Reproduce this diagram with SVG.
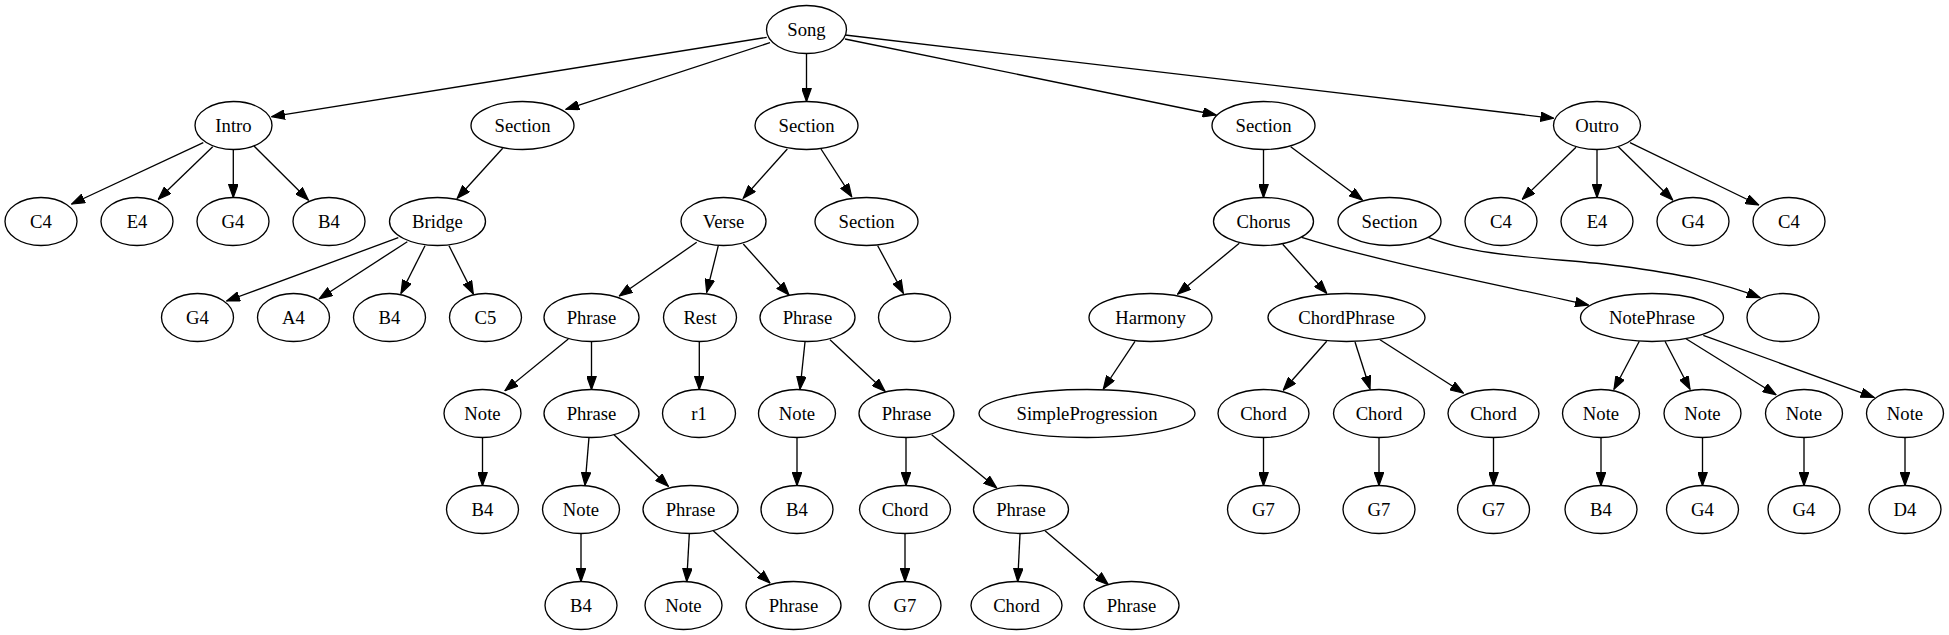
<svg xmlns="http://www.w3.org/2000/svg" width="1949" height="635" viewBox="0 0 1949 635">
<style>
ellipse{fill:#fff;stroke:#000;stroke-width:1.33}
text{font-family:'Liberation Serif',serif;font-size:18.67px;text-anchor:middle;fill:#000}
.e path,.e line{fill:none;stroke:#000;stroke-width:1.33;marker-end:url(#ah)}
</style>
<defs>
<marker id="ah" viewBox="0 0 14 10" refX="13.3" refY="5" markerWidth="14" markerHeight="10" markerUnits="userSpaceOnUse" orient="auto">
<polygon points="0.5,0.4 13.3,5 0.5,9.6" fill="#000" stroke="#000" stroke-width="1.2"/>
</marker>
</defs>
<rect width="1949" height="635" fill="#fff"/>
<g class="e" id="edges">
<line x1="766.7" y1="37.3" x2="271.7" y2="116.7"/>
<line x1="770" y1="42.7" x2="566" y2="109.3"/>
<line x1="806.5" y1="53.5" x2="806.5" y2="101.5"/>
<line x1="845" y1="39" x2="1216" y2="115"/>
<line x1="845" y1="35" x2="1553.7" y2="118.3"/>
<line x1="203.3" y1="142.7" x2="71.7" y2="204"/>
<line x1="212.7" y1="146.7" x2="158.3" y2="199.3"/>
<line x1="233.3" y1="149.5" x2="233.3" y2="197.5"/>
<line x1="254" y1="146" x2="308.3" y2="200"/>
<line x1="502.7" y1="148.3" x2="457.3" y2="198.3"/>
<line x1="398.3" y1="237.7" x2="226.7" y2="301"/>
<line x1="407.3" y1="241.7" x2="319.3" y2="298.7"/>
<line x1="425" y1="245.7" x2="401" y2="293.3"/>
<line x1="449" y1="245.7" x2="473.3" y2="294"/>
<line x1="787.3" y1="149" x2="743.3" y2="198.3"/>
<line x1="821" y1="149" x2="851.7" y2="196.7"/>
<line x1="696.7" y1="242.3" x2="619.3" y2="296"/>
<line x1="718.3" y1="245.7" x2="706.7" y2="292.3"/>
<line x1="743.3" y1="244" x2="789" y2="295"/>
<line x1="877.7" y1="245.7" x2="903.3" y2="293.3"/>
<line x1="1263.5" y1="149.5" x2="1263.5" y2="197.5"/>
<line x1="1290.7" y1="146.7" x2="1362.3" y2="200"/>
<line x1="1239.3" y1="243.3" x2="1177.7" y2="294"/>
<line x1="1282.7" y1="244.3" x2="1326.7" y2="293.3"/>
<path d="M1301.7,237.3 C1380,262 1500,285 1588.3,305"/>
<path d="M1428.3,237.3 C1480,258 1560,258 1620,266 C1680,274 1720,282 1760,297.7"/>
<line x1="1576" y1="147.3" x2="1522.3" y2="199.3"/>
<line x1="1597" y1="149.5" x2="1597" y2="197.5"/>
<line x1="1618.3" y1="146.7" x2="1672.7" y2="200"/>
<line x1="1630" y1="142.7" x2="1758.7" y2="205"/>
<line x1="568.3" y1="339" x2="505" y2="390.7"/>
<line x1="591.5" y1="341.5" x2="591.5" y2="389.5"/>
<line x1="699.3" y1="341.5" x2="699.3" y2="389.5"/>
<line x1="805" y1="342" x2="800" y2="389.3"/>
<line x1="830" y1="339.7" x2="885" y2="391.3"/>
<line x1="1135" y1="341.3" x2="1103.3" y2="389"/>
<line x1="1326.7" y1="341.3" x2="1283.3" y2="390.2"/>
<line x1="1355" y1="342" x2="1370" y2="389"/>
<line x1="1380" y1="339.7" x2="1463.3" y2="393"/>
<line x1="1639.3" y1="341.3" x2="1614" y2="389.3"/>
<line x1="1665" y1="341.3" x2="1690" y2="389.3"/>
<line x1="1686" y1="338.7" x2="1776" y2="394.7"/>
<line x1="1703.3" y1="335.3" x2="1874" y2="397.3"/>
<line x1="482.5" y1="437.5" x2="482.5" y2="485.5"/>
<line x1="589" y1="437.3" x2="585" y2="485.3"/>
<line x1="614" y1="434.7" x2="668.3" y2="486.3"/>
<line x1="797" y1="437.5" x2="797" y2="485.5"/>
<line x1="906" y1="437.5" x2="906" y2="485.5"/>
<line x1="931.7" y1="434.7" x2="996.7" y2="488"/>
<line x1="1263.5" y1="437.5" x2="1263.5" y2="485.5"/>
<line x1="1379" y1="437.5" x2="1379" y2="485.5"/>
<line x1="1493.5" y1="437.5" x2="1493.5" y2="485.5"/>
<line x1="1601" y1="437.5" x2="1601" y2="485.5"/>
<line x1="1702.5" y1="437.5" x2="1702.5" y2="485.5"/>
<line x1="1804" y1="437.5" x2="1804" y2="485.5"/>
<line x1="1905" y1="437.5" x2="1905" y2="485.5"/>
<line x1="581" y1="533.5" x2="581" y2="581.5"/>
<line x1="689.3" y1="534" x2="686.7" y2="581.5"/>
<line x1="713.3" y1="530.7" x2="770" y2="583"/>
<line x1="905" y1="533.5" x2="905" y2="581.5"/>
<line x1="1020" y1="534" x2="1017.7" y2="581.5"/>
<line x1="1045" y1="530.7" x2="1108.3" y2="584.7"/>
</g>
<g id="nodes" font-family="Liberation Serif, serif">
<g id="song"><ellipse cx="806.5" cy="29.5" rx="40" ry="24"/><text x="806.5" y="35.5">Song</text></g>
<g id="intro"><ellipse cx="233.5" cy="125.5" rx="38.5" ry="24"/><text x="233.5" y="131.5">Intro</text></g>
<g id="section1"><ellipse cx="522.5" cy="125.5" rx="51.5" ry="24"/><text x="522.5" y="131.5">Section</text></g>
<g id="section2"><ellipse cx="806.5" cy="125.5" rx="51.5" ry="24"/><text x="806.5" y="131.5">Section</text></g>
<g id="section3"><ellipse cx="1263.5" cy="125.5" rx="51.5" ry="24"/><text x="1263.5" y="131.5">Section</text></g>
<g id="outro"><ellipse cx="1597" cy="125.5" rx="43.5" ry="24"/><text x="1597" y="131.5">Outro</text></g>
<g id="intro_c4"><ellipse cx="41" cy="221.5" rx="36" ry="24"/><text x="41" y="227.5">C4</text></g>
<g id="intro_e4"><ellipse cx="137" cy="221.5" rx="36" ry="24"/><text x="137" y="227.5">E4</text></g>
<g id="intro_g4"><ellipse cx="233" cy="221.5" rx="36" ry="24"/><text x="233" y="227.5">G4</text></g>
<g id="intro_b4"><ellipse cx="329" cy="221.5" rx="36" ry="24"/><text x="329" y="227.5">B4</text></g>
<g id="bridge"><ellipse cx="437.5" cy="221.5" rx="48" ry="24"/><text x="437.5" y="227.5">Bridge</text></g>
<g id="verse"><ellipse cx="723.5" cy="221.5" rx="42.5" ry="24"/><text x="723.5" y="227.5">Verse</text></g>
<g id="section2b"><ellipse cx="866.5" cy="221.5" rx="51.5" ry="24"/><text x="866.5" y="227.5">Section</text></g>
<g id="chorus"><ellipse cx="1263.5" cy="221.5" rx="50" ry="24"/><text x="1263.5" y="227.5">Chorus</text></g>
<g id="section3b"><ellipse cx="1389.5" cy="221.5" rx="51.5" ry="24"/><text x="1389.5" y="227.5">Section</text></g>
<g id="outro_c4"><ellipse cx="1501" cy="221.5" rx="36" ry="24"/><text x="1501" y="227.5">C4</text></g>
<g id="outro_e4"><ellipse cx="1597" cy="221.5" rx="36" ry="24"/><text x="1597" y="227.5">E4</text></g>
<g id="outro_g4"><ellipse cx="1693" cy="221.5" rx="36" ry="24"/><text x="1693" y="227.5">G4</text></g>
<g id="outro_c4b"><ellipse cx="1789" cy="221.5" rx="36" ry="24"/><text x="1789" y="227.5">C4</text></g>
<g id="bridge_g4"><ellipse cx="197.5" cy="317.5" rx="36" ry="24"/><text x="197.5" y="323.5">G4</text></g>
<g id="bridge_a4"><ellipse cx="293.5" cy="317.5" rx="36" ry="24"/><text x="293.5" y="323.5">A4</text></g>
<g id="bridge_b4"><ellipse cx="389.5" cy="317.5" rx="36" ry="24"/><text x="389.5" y="323.5">B4</text></g>
<g id="bridge_c5"><ellipse cx="485.5" cy="317.5" rx="36" ry="24"/><text x="485.5" y="323.5">C5</text></g>
<g id="phrase_a"><ellipse cx="591.5" cy="317.5" rx="47.5" ry="24"/><text x="591.5" y="323.5">Phrase</text></g>
<g id="rest"><ellipse cx="700" cy="317.5" rx="36.5" ry="24"/><text x="700" y="323.5">Rest</text></g>
<g id="phrase_b"><ellipse cx="807.5" cy="317.5" rx="47.5" ry="24"/><text x="807.5" y="323.5">Phrase</text></g>
<g id="empty1"><ellipse cx="914.5" cy="317.5" rx="36" ry="24"/></g>
<g id="harmony"><ellipse cx="1150.5" cy="317.5" rx="61.5" ry="24"/><text x="1150.5" y="323.5">Harmony</text></g>
<g id="chordphrase"><ellipse cx="1346.5" cy="317.5" rx="78.5" ry="24"/><text x="1346.5" y="323.5">ChordPhrase</text></g>
<g id="notephrase"><ellipse cx="1652" cy="317.5" rx="71.5" ry="24"/><text x="1652" y="323.5">NotePhrase</text></g>
<g id="empty2"><ellipse cx="1783" cy="317.5" rx="36" ry="24"/></g>
<g id="note_a"><ellipse cx="482.5" cy="413.5" rx="38.5" ry="24"/><text x="482.5" y="419.5">Note</text></g>
<g id="phrase_c"><ellipse cx="591.5" cy="413.5" rx="47.5" ry="24"/><text x="591.5" y="419.5">Phrase</text></g>
<g id="r1"><ellipse cx="699" cy="413.5" rx="36.5" ry="24"/><text x="699" y="419.5">r1</text></g>
<g id="note_b"><ellipse cx="797" cy="413.5" rx="38.5" ry="24"/><text x="797" y="419.5">Note</text></g>
<g id="phrase_d"><ellipse cx="906.5" cy="413.5" rx="47.5" ry="24"/><text x="906.5" y="419.5">Phrase</text></g>
<g id="simpleprog"><ellipse cx="1087" cy="413.5" rx="108" ry="24"/><text x="1087" y="419.5">SimpleProgression</text></g>
<g id="chord1"><ellipse cx="1263.5" cy="413.5" rx="45.5" ry="24"/><text x="1263.5" y="419.5">Chord</text></g>
<g id="chord2"><ellipse cx="1379" cy="413.5" rx="45.5" ry="24"/><text x="1379" y="419.5">Chord</text></g>
<g id="chord3"><ellipse cx="1493.5" cy="413.5" rx="45.5" ry="24"/><text x="1493.5" y="419.5">Chord</text></g>
<g id="note1"><ellipse cx="1601" cy="413.5" rx="38.5" ry="24"/><text x="1601" y="419.5">Note</text></g>
<g id="note2"><ellipse cx="1702.5" cy="413.5" rx="38.5" ry="24"/><text x="1702.5" y="419.5">Note</text></g>
<g id="note3"><ellipse cx="1804" cy="413.5" rx="38.5" ry="24"/><text x="1804" y="419.5">Note</text></g>
<g id="note4"><ellipse cx="1905" cy="413.5" rx="38.5" ry="24"/><text x="1905" y="419.5">Note</text></g>
<g id="b4_a"><ellipse cx="482.5" cy="509.5" rx="36" ry="24"/><text x="482.5" y="515.5">B4</text></g>
<g id="note_c"><ellipse cx="581" cy="509.5" rx="38.5" ry="24"/><text x="581" y="515.5">Note</text></g>
<g id="phrase_e"><ellipse cx="690.5" cy="509.5" rx="47.5" ry="24"/><text x="690.5" y="515.5">Phrase</text></g>
<g id="b4_b"><ellipse cx="797" cy="509.5" rx="36" ry="24"/><text x="797" y="515.5">B4</text></g>
<g id="chord_a"><ellipse cx="905" cy="509.5" rx="45.5" ry="24"/><text x="905" y="515.5">Chord</text></g>
<g id="phrase_f"><ellipse cx="1021" cy="509.5" rx="47.5" ry="24"/><text x="1021" y="515.5">Phrase</text></g>
<g id="g7_1"><ellipse cx="1263.5" cy="509.5" rx="36" ry="24"/><text x="1263.5" y="515.5">G7</text></g>
<g id="g7_2"><ellipse cx="1379" cy="509.5" rx="36" ry="24"/><text x="1379" y="515.5">G7</text></g>
<g id="g7_3"><ellipse cx="1493.5" cy="509.5" rx="36" ry="24"/><text x="1493.5" y="515.5">G7</text></g>
<g id="np_b4"><ellipse cx="1601" cy="509.5" rx="36" ry="24"/><text x="1601" y="515.5">B4</text></g>
<g id="np_g4a"><ellipse cx="1702.5" cy="509.5" rx="36" ry="24"/><text x="1702.5" y="515.5">G4</text></g>
<g id="np_g4b"><ellipse cx="1804" cy="509.5" rx="36" ry="24"/><text x="1804" y="515.5">G4</text></g>
<g id="np_d4"><ellipse cx="1905" cy="509.5" rx="36" ry="24"/><text x="1905" y="515.5">D4</text></g>
<g id="b4_c"><ellipse cx="581" cy="605.5" rx="36" ry="24"/><text x="581" y="611.5">B4</text></g>
<g id="note_d"><ellipse cx="683.5" cy="605.5" rx="38.5" ry="24"/><text x="683.5" y="611.5">Note</text></g>
<g id="phrase_g"><ellipse cx="793.5" cy="605.5" rx="47.5" ry="24"/><text x="793.5" y="611.5">Phrase</text></g>
<g id="g7_a"><ellipse cx="905" cy="605.5" rx="36" ry="24"/><text x="905" y="611.5">G7</text></g>
<g id="chord_b"><ellipse cx="1016.5" cy="605.5" rx="45.5" ry="24"/><text x="1016.5" y="611.5">Chord</text></g>
<g id="phrase_h"><ellipse cx="1131.5" cy="605.5" rx="47.5" ry="24"/><text x="1131.5" y="611.5">Phrase</text></g>
</g>
</svg>
